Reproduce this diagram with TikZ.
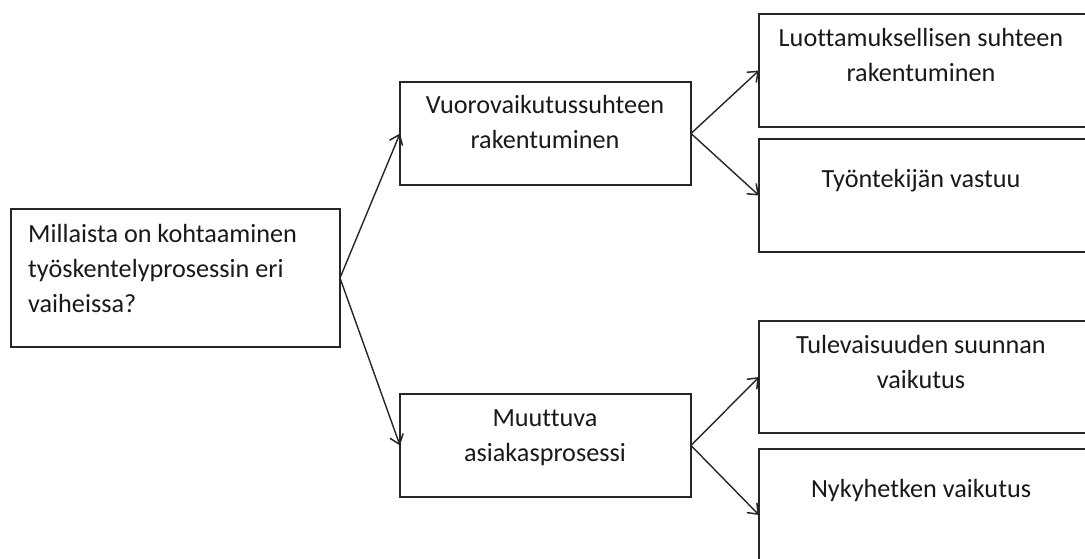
\documentclass[tikz,border=0pt]{standalone}
\usepackage{fontspec}
\setmainfont{Carlito}[Ligatures=NoCommon]
\usetikzlibrary{arrows.meta,calc}
\begin{document}
\begin{tikzpicture}[x=1pt,y=-1pt,
  box/.style={draw=black!85,line width=1.6pt,inner sep=0pt,outer sep=0pt},
  lbl/.style={inner sep=0pt,anchor=base,text=black!90,
    font=\fontsize{26.2}{35}\selectfont},
  conn/.style={draw=black!85,line width=1.4pt,
    -{Straight Barb[length=9pt,width=14pt,line width=1.5pt]}}]
\useasboundingbox (0,0) rectangle (1085,559);

% boxes
\node[box,minimum width=329pt,minimum height=138pt] (q)  at (175.5,278) {};
\node[box,minimum width=291pt,minimum height=103pt] (a)  at (545.5,133.5) {};
\node[box,minimum width=291pt,minimum height=103pt] (b)  at (545.5,445.5) {};
\node[box,minimum width=341pt,minimum height=113pt] (a1) at (929.5,70.5) {};
\node[box,minimum width=341pt,minimum height=113pt] (a2) at (929.5,195.5) {};
\node[box,minimum width=341pt,minimum height=112pt] (b1) at (929.5,377) {};
\node[box,minimum width=341pt,minimum height=132pt] (b2) at (929.5,515) {};

% labels (multi-line labels sit on the baseline of their last line)
\node[lbl,align=left,anchor=base west] (tq) at (28,312)
  {Millaista on kohtaaminen\\työskentelyprosessin eri\\vaiheissa?};
\node[lbl,align=center] (ta) at (545,149) {Vuorovaikutussuhteen\\rakentuminen};
\node[lbl,align=center] (tb) at (545,461) {Muuttuva\\asiakasprosessi};
\node[lbl,align=center] (ta1) at (921,82) {Luottamuksellisen suhteen\\rakentuminen};
\node[lbl] (ta2) at (921,187) {Työntekijän vastuu};
\node[lbl,align=center] (tb1) at (921,388) {Tulevaisuuden suunnan\\vaikutus};
\node[lbl] (tb2) at (921,497) {Nykyhetken vaikutus};

% connectors
\draw[conn] (q.east) -- (a.west);
\draw[conn] (q.east) -- (b.west);
\draw[conn] (a.east) -- (a1.west);
\draw[conn] (a.east) -- (a2.west);
\draw[conn] (b.east) -- (b1.west);
\draw[conn] (b.east) -- (b2.west);
\end{tikzpicture}
\end{document}
